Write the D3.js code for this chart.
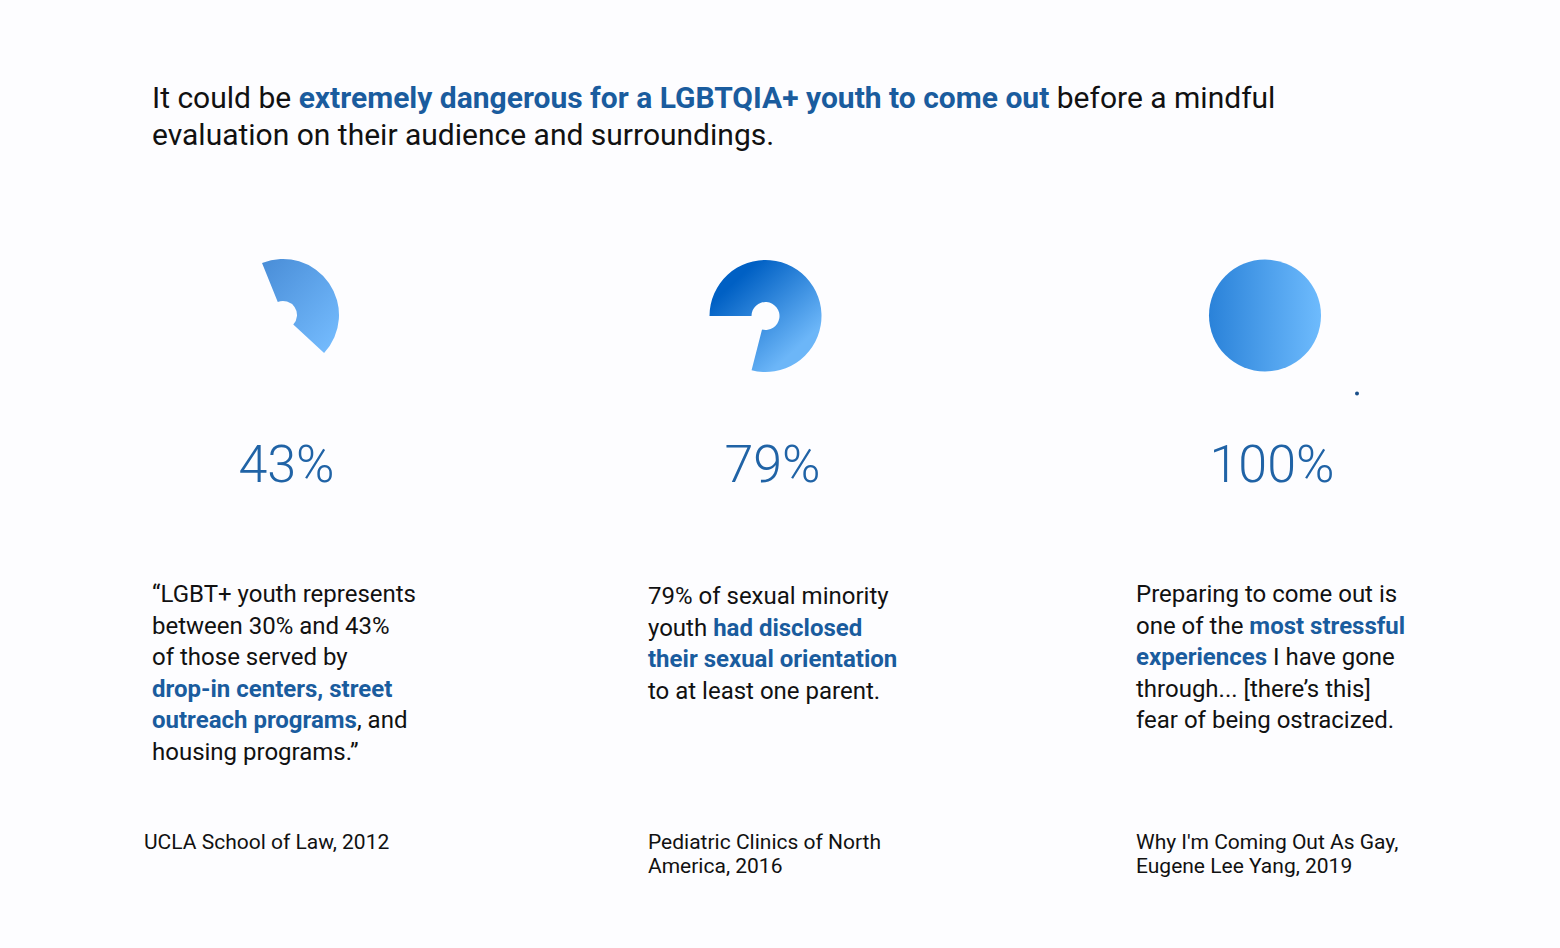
<!DOCTYPE html>
<html>
<head>
<meta charset="utf-8">
<script src="https://cdn.jsdelivr.net/npm/d3@7"></script>
<style>
	html, body { margin: 0; padding: 0; background: #fdfdff; }
	svg { display: block; font-family: Roboto, "Noto Sans", sans-serif; }
</style>
</head>
<body>
<div id="chart"></div>
<script>

// values
const values = [43, 79, 100];
const valueLabels = ["43%", "79%", "100%"];

const titleLines = [
	[["It could be ", false], ["extremely dangerous for a LGBTQIA+ youth to come out", true], [" before a mindful", false]],
	[["evaluation on their audience and surroundings.", false]]
];

const quotes = [
	[
		[["\u201CLGBT+ youth represents", false]],
		[["between 30% and 43%", false]],
		[["of those served by", false]],
		[["drop-in centers, street", true]],
		[["outreach programs", true], [", and", false]],
		[["housing programs.\u201D", false]]
	],
	[
		[["79% of sexual minority", false]],
		[["youth ", false], ["had disclosed", true]],
		[["their sexual orientation", true]],
		[["to at least one parent.", false]]
	],
	[
		[["Preparing to come out is", false]],
		[["one of the ", false], ["most stressful", true]],
		[["experiences", true], [" I have gone", false]],
		[["through... [there\u2019s this]", false]],
		[["fear of being ostracized.", false]]
	]
];

const sources = [
	["UCLA School of Law, 2012"],
	["Pediatric Clinics of North", "America, 2016"],
	["Why I'm Coming Out As Gay,", "Eugene Lee Yang, 2019"]
];

function drawPanels(rootDOM){

	const W = 1560;
	const H = 948;

	// layout per column
	const pieCx = [283, 765.5, 1265];
	const pieCy = [315, 316, 315.5];
	const startDeg = [-22, -90, -90];
	const labelCx = [286.5, 772.5, 1272];
	const quoteX = [152, 648, 1136];
	const quoteY = [602, 604, 602];
	const sourceX = [144, 648, 1136];
	const gradStops = [
		["#4a8ed8", "#76bdff"],
		["#0060c4", "#6cb6f8"],
		["#2a82d9", "#6ebbfd"]
	];
	const gradVec = [
		[0.05, 0.0, 0.95, 1.0],
		[0.0, 0.4, 0.55, 1.0],
		[0.0, 0.5, 1.0, 0.5]
	];

	const blue = "#1a5c9e";
	const ink = "#111111";

	const svg = d3.select(rootDOM)
		.append("svg")
		.attr("width", W)
		.attr("height", H);

	svg.append("rect")
		.attr("width", W)
		.attr("height", H)
		.attr("fill", "#fdfdff");

	const defs = svg.append("defs");

	values.forEach((v, i) => {
		const g = defs.append("linearGradient")
			.attr("id", "grad" + i)
			.attr("x1", gradVec[i][0])
			.attr("y1", gradVec[i][1])
			.attr("x2", gradVec[i][2])
			.attr("y2", gradVec[i][3]);
		g.append("stop").attr("offset", 0).attr("stop-color", gradStops[i][0]);
		g.append("stop").attr("offset", 1).attr("stop-color", gradStops[i][1]);
	});

	// title
	const title = svg.append("text")
		.attr("x", 152)
		.attr("y", 108)
		.style("font-size", "30px")
		.attr("fill", ink);

	titleLines.forEach((line, li) => {
		line.forEach((seg, si) => {
			const t = title.append("tspan")
				.text(seg[0])
				.attr("fill", seg[1] ? blue : ink)
				.style("font-weight", seg[1] ? 700 : 400);
			if(si === 0){
				t.attr("x", 152).attr("dy", li === 0 ? 0 : 37);
			}
		});
	});

	// pies
	const arc = d3.arc()
		.outerRadius(56);

	values.forEach((v, i) => {
		const a0 = startDeg[i] * Math.PI / 180;
		const pie = d3.pie()
			.sort(null)
			.startAngle(a0)
			.endAngle(a0 + 2 * Math.PI);

		const slices = pie([v, 100 - v]);

		const g = svg.append("g")
			.attr("class", "pie")
			.attr("transform", `translate(${pieCx[i]}, ${pieCy[i]})`);

		g.selectAll("path")
			.data(slices.slice(0, 1))
			.enter()
			.append("path")
			.attr("d", d => arc.innerRadius(v < 100 ? 14 : 0)(d))
			.attr("fill", `url(#grad${i})`);

		svg.append("text")
			.attr("x", labelCx[i])
			.attr("y", 482)
			.attr("text-anchor", "middle")
			.style("font-size", "52px")
			.style("font-weight", 300)
			.attr("fill", "#2063a6")
			.text(valueLabels[i]);
	});

	// small stray dot near the last pie
	svg.append("circle")
		.attr("cx", pieCx[2] + 92)
		.attr("cy", pieCy[2] + 78)
		.attr("r", 2)
		.attr("fill", "#1a4f8a");

	// quotes
	quotes.forEach((lines, i) => {
		const t = svg.append("text")
			.attr("x", quoteX[i])
			.attr("y", quoteY[i])
			.style("font-size", "24px")
			.attr("fill", ink);

		lines.forEach((line, li) => {
			line.forEach((seg, si) => {
				const s = t.append("tspan")
					.text(seg[0])
					.attr("fill", seg[1] ? blue : ink)
					.style("font-weight", seg[1] ? 700 : 400);
				if(si === 0){
					s.attr("x", quoteX[i]).attr("dy", li === 0 ? 0 : 31.5);
				}
			});
		});
	});

	// sources
	sources.forEach((lines, i) => {
		const t = svg.append("text")
			.attr("x", sourceX[i])
			.attr("y", 849)
			.style("font-size", "21px")
			.attr("fill", ink);

		t.selectAll("tspan")
			.data(lines)
			.enter()
			.append("tspan")
			.attr("x", sourceX[i])
			.attr("dy", (d, j) => j === 0 ? 0 : 24)
			.text(d => d);
	});
}

drawPanels(document.getElementById("chart"));
</script>
</body>
</html>
